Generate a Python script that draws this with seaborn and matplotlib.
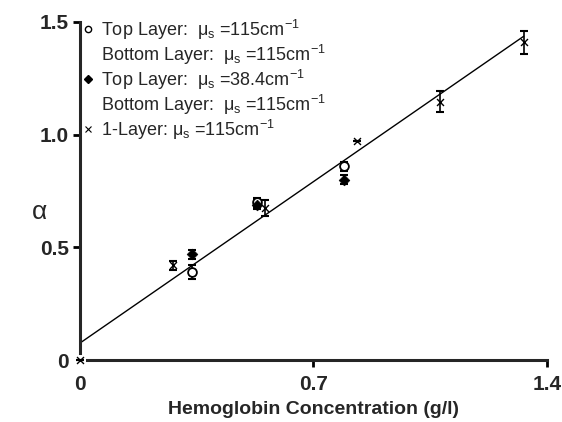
import matplotlib
matplotlib.use("Agg")
import matplotlib.pyplot as plt
from matplotlib.lines import Line2D
import seaborn as sns
import numpy as np
import pandas as pd

# ---- data ----
one_x = [0.0, 0.28, 0.555, 0.83, 1.08, 1.33]
one_y = [0.0, 0.42, 0.675, 0.97, 1.147, 1.41]
one_err = [0.0, 0.02, 0.035, 0.0, 0.045, 0.05]

same_x = [0.336, 0.53, 0.79]
same_y = [0.39, 0.70, 0.86]
same_err = [0.03, 0.02, 0.02]

low_x = [0.336, 0.53, 0.79]
low_y = [0.47, 0.69, 0.80]
low_err = [0.02, 0.02, 0.02]

x_ticks = [0, 0.7, 1.4]
x_ticklabels = ["0", "0.7", "1.4"]
y_ticks = [0, 0.5, 1.0, 1.5]
y_ticklabels = ["0", "0.5", "1.0", "1.5"]

sns.set_style("ticks")
plt.rcParams['font.family'] = ['Liberation Sans', 'DejaVu Sans']
plt.rcParams['mathtext.fontset'] = 'custom'
plt.rcParams['mathtext.rm'] = 'Liberation Sans'
plt.rcParams['mathtext.it'] = 'Liberation Sans'
plt.rcParams['mathtext.bf'] = 'Liberation Sans:bold'

fig = plt.figure(figsize=(5.62, 4.22), dpi=100)
ax = fig.add_axes([0.1423, 0.1469, 0.8310, 0.8010])

df_one = pd.DataFrame({"x": one_x, "y": one_y})
sns.regplot(data=df_one, x="x", y="y", ax=ax, scatter=False, ci=None,
            truncate=True, line_kws=dict(color="black", lw=1.0))

# error bars
ax.errorbar(one_x, one_y, yerr=one_err, fmt="none", ecolor="black",
            elinewidth=1.2, capsize=3, capthick=1.5, clip_on=False)
ax.errorbar(same_x, same_y, yerr=same_err, fmt="none", ecolor="black",
            elinewidth=1.2, capsize=3, capthick=1.5)
ax.errorbar(low_x, low_y, yerr=low_err, fmt="none", ecolor="black",
            elinewidth=1.2, capsize=3, capthick=1.5)

sns.scatterplot(x=same_x, y=same_y, ax=ax, marker="o", s=40,
                facecolor="white", edgecolor="black", linewidth=1.3, zorder=4)
sns.scatterplot(x=low_x, y=low_y, ax=ax, marker="D", s=30,
                color="black", edgecolor="black", zorder=5)
sns.scatterplot(x=one_x, y=one_y, ax=ax, marker="x", s=25,
                color="black", linewidth=1.0, zorder=6, clip_on=False)

ax.set_xlim(0, 1.4)
ax.set_ylim(0, 1.5)
ax.set_xticks(x_ticks)
ax.set_xticklabels(x_ticklabels)
ax.set_yticks(y_ticks)
ax.set_yticklabels(y_ticklabels)
for lab in ax.get_xticklabels() + ax.get_yticklabels():
    lab.set_fontweight("bold")
    lab.set_fontsize(15)
ax.tick_params(axis="both", width=2, length=5, color="black", pad=3)
ax.tick_params(axis="x", pad=6)
ax.xaxis.get_major_ticks()[0].tick1line.set_visible(False)
ax.yaxis.get_major_ticks()[0].tick1line.set_visible(False)

sns.despine(ax=ax)
ax.spines['left'].set_linewidth(2.2)
ax.spines['bottom'].set_linewidth(2.2)
ax.spines['left'].set_bounds(0.03, 1.5)
ax.spines['bottom'].set_bounds(0.02, 1.4)

ax.set_xlabel("Hemoglobin Concentration (g/l)", fontsize=14, fontweight="bold", labelpad=5)
ax.set_ylabel("α", fontsize=19, rotation=0, va="center", ha="center")
ax.yaxis.set_label_coords(-0.086, 0.438)

mu = "μ$_\\mathregular{s}$"
labels = [
    "Top Layer:  " + mu + " =115cm$^{\\mathregular{-1}}$",
    "Bottom Layer:  " + mu + " =115cm$^{\\mathregular{-1}}$",
    "Top Layer:  " + mu + " =38.4cm$^{\\mathregular{-1}}$",
    "Bottom Layer:  " + mu + " =115cm$^{\\mathregular{-1}}$",
    "1-Layer: " + mu + " =115cm$^{\\mathregular{-1}}$",
]
handles = [
    Line2D([], [], ls="none", marker="o", ms=4.5, mfc="white", mec="black", mew=1),
    Line2D([], [], ls="none", marker=None),
    Line2D([], [], ls="none", marker="D", ms=4, mfc="black", mec="black"),
    Line2D([], [], ls="none", marker=None),
    Line2D([], [], ls="none", marker="x", ms=4, mec="black", mew=0.8),
]
leg = ax.legend(handles, labels, loc="upper left", bbox_to_anchor=(-0.015, 1.045),
                frameon=False, fontsize=13, handlelength=0.5, handletextpad=0.45,
                labelspacing=0.05, borderaxespad=0.2)

fig.savefig("out.png", dpi=100)
